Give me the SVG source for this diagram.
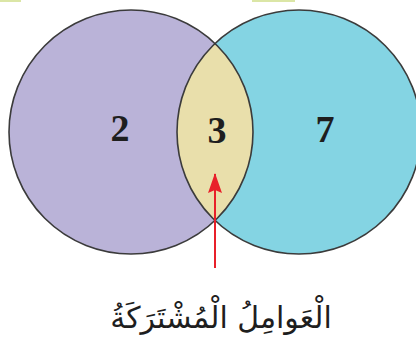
<svg xmlns="http://www.w3.org/2000/svg" width="416" height="344" viewBox="0 0 416 344">
  <style>
    .outline { fill: none; stroke: #3b3b3b; stroke-width: 1.6; }
    .num { font-family: "Liberation Serif", "DejaVu Serif", serif; font-weight: bold; font-size: 38px; fill: #1e1e1e; text-anchor: middle; }
    .label { font-family: "DejaVu Sans", "Noto Sans", sans-serif; font-size: 30px; fill: #1e1e1e; text-anchor: middle; }
  </style>
  <defs>
    <clipPath id="clipLeft">
      <circle cx="131" cy="132" r="122"/>
    </clipPath>
    <marker id="arrowHead" viewBox="0 0 20 14" refX="19" refY="7" markerWidth="20" markerHeight="14" markerUnits="userSpaceOnUse" orient="auto">
      <path d="M20 7 L0 0 L3 7 L0 14 Z" fill="#e8202a"/>
    </marker>
  </defs>
  <rect x="0" y="0" width="416" height="344" fill="#ffffff"/>
  <rect x="0" y="0" width="21" height="2" fill="#dbe6a6"/>
  <rect x="252" y="0" width="43" height="2" fill="#dbe6a6"/>
  <g id="left-set">
    <circle cx="131" cy="132" r="122" fill="#bab3d8"/>
  </g>
  <g id="right-set">
    <circle cx="299" cy="132" r="122" fill="#84d4e3"/>
  </g>
  <g id="common">
    <circle cx="299" cy="132" r="122" fill="#e9dfab" clip-path="url(#clipLeft)"/>
  </g>
  <g id="outlines">
    <circle class="outline" cx="131" cy="132" r="122"/>
    <circle class="outline" cx="299" cy="132" r="122"/>
  </g>
  <g id="numbers">
    <text class="num" x="120" y="141">2</text>
    <text class="num" x="217" y="143">3</text>
    <text class="num" x="325" y="142">7</text>
  </g>
  <g id="connectors">
    <line x1="215" y1="268" x2="215" y2="174" stroke="#e8202a" stroke-width="2" marker-end="url(#arrowHead)"/>
  </g>
  <g id="caption">
    <text class="label" x="221" y="328" direction="rtl">الْعَوامِلُ الْمُشْتَرَكَةُ</text>
  </g>
</svg>
